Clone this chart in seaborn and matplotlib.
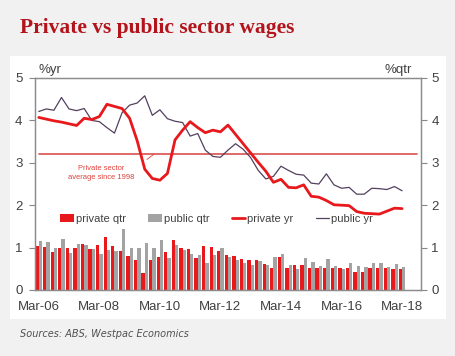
import numpy as np
import pandas as pd
import matplotlib.pyplot as plt
from matplotlib.patches import Patch, Rectangle
from matplotlib.lines import Line2D
import seaborn as sns

# quarterly categories Mar-06 .. Sep-18 (data runs to Mar-18)
quarters = [p.strftime("%b-%y") for p in pd.period_range("2006Q1", "2018Q3", freq="Q")]
quarters = [q.replace("Jan", "Mar").replace("Apr", "Jun").replace("Jul", "Sep").replace("Oct", "Dec") for q in quarters]
tick_labels = ["Mar-06", "Mar-08", "Mar-10", "Mar-12", "Mar-14", "Mar-16", "Mar-18"]

private_qtr = [1.03, 1.02, 0.90, 1.00, 0.99, 0.99, 1.09, 0.97, 1.06, 1.26, 1.04, 0.93, 0.81,
               0.71, 0.41, 0.71, 0.79, 0.89, 1.17, 0.98, 0.96, 0.76, 1.04, 1.02, 0.93, 0.82,
               0.81, 0.72, 0.71, 0.71, 0.62, 0.53, 0.79, 0.52, 0.60, 0.60, 0.51, 0.51, 0.51,
               0.51, 0.51, 0.51, 0.42, 0.42, 0.51, 0.51, 0.51, 0.49, 0.49]
public_qtr = [1.15, 1.13, 1.00, 1.21, 0.87, 1.09, 1.07, 0.96, 0.84, 0.94, 0.93, 1.43, 1.00,
              1.00, 1.10, 0.98, 1.17, 0.76, 1.05, 0.94, 0.84, 0.83, 0.64, 0.82, 0.98, 0.79,
              0.71, 0.63, 0.60, 0.69, 0.60, 0.77, 0.86, 0.59, 0.50, 0.75, 0.67, 0.57, 0.74,
              0.57, 0.49, 0.64, 0.56, 0.55, 0.63, 0.63, 0.55, 0.62, 0.54]
private_yr = [4.07, 4.03, 3.99, 3.96, 3.92, 3.88, 4.05, 4.02, 4.09, 4.38, 4.33, 4.28, 4.05,
              3.52, 2.85, 2.63, 2.59, 2.75, 3.54, 3.77, 3.97, 3.83, 3.71, 3.77, 3.73, 3.89,
              3.67, 3.45, 3.23, 3.01, 2.80, 2.54, 2.61, 2.42, 2.41, 2.48, 2.21, 2.19, 2.11,
              2.01, 2.00, 1.99, 1.85, 1.81, 1.80, 1.79, 1.86, 1.93, 1.92]
public_yr = [4.21, 4.27, 4.24, 4.54, 4.27, 4.23, 4.28, 4.00, 3.97, 3.83, 3.70, 4.18, 4.36,
             4.41, 4.58, 4.12, 4.25, 4.04, 3.98, 3.95, 3.63, 3.69, 3.30, 3.15, 3.13, 3.30,
             3.45, 3.32, 3.12, 2.82, 2.62, 2.68, 2.92, 2.82, 2.73, 2.71, 2.52, 2.50, 2.74,
             2.48, 2.40, 2.42, 2.26, 2.26, 2.40, 2.39, 2.37, 2.44, 2.34]
private_avg = 3.2

RED = "#E8191C"
GREY = "#A3A3A3"
PURPLE = "#54405F"
AVG = "#D9504F"
TXT = "#404040"

sns.set_style("white")
plt.rcParams['font.family'] = ['Liberation Sans', 'DejaVu Sans']

fig = plt.figure(figsize=(4.56, 3.56), dpi=100, facecolor="#F1F1F1")
fig.patches.append(Rectangle((10 / 456, 1 - 319 / 356), 436 / 456, 263 / 356,
                             transform=fig.transFigure, facecolor="white", edgecolor="none", zorder=-10))
ax = fig.add_axes([35 / 456, 1 - 290 / 356, 386 / 456, 212 / 356])

n = len(private_qtr)
bars = pd.DataFrame({
    "quarter": quarters[:n] * 2,
    "series": ["private qtr"] * n + ["public qtr"] * n,
    "value": private_qtr + public_qtr,
})
sns.barplot(data=bars, x="quarter", y="value", hue="series", order=quarters,
            hue_order=["private qtr", "public qtr"], palette=[RED, GREY],
            width=0.88, saturation=1, linewidth=0, legend=False, ax=ax)

x = np.arange(n)
sns.lineplot(x=np.arange(len(quarters)), y=[private_avg] * len(quarters), color=AVG, lw=1.2, ax=ax)
sns.lineplot(x=x, y=public_yr, color=PURPLE, lw=0.9, ax=ax)
sns.lineplot(x=x, y=private_yr, color=RED, lw=2.0, ax=ax)

ax.set_xlim(-0.5, len(quarters) - 0.5)
ax.set_ylim(0, 5)
ax.set_xlabel("")
ax.set_ylabel("")
ax.set_xticks(np.arange(0, n, 8))
ax.set_xticklabels(tick_labels)
ax.set_xticks(np.arange(-0.5, n, 8), minor=True)
ax.tick_params(axis="x", which="major", length=0, labelsize=9.5, labelcolor=TXT, pad=8)
ax.tick_params(axis="x", which="minor", length=3, color="#888888", direction="out")
ax.set_yticks(range(6))
ax.tick_params(axis="y", length=4, color="#888888", direction="out", labelsize=9.5, labelcolor=TXT, left=True, pad=5)

ax2 = ax.twinx()
ax2.set_ylim(0, 5)
ax2.set_yticks(range(6))
ax2.tick_params(axis="y", length=4, color="#888888", direction="out", labelsize=9.5, labelcolor=TXT, right=True)
for a in (ax, ax2):
    for s in a.spines.values():
        s.set_color("#8C8C8C")
        s.set_linewidth(0.9)

ax.text(0.008, 1.01, "%yr", transform=ax.transAxes, fontsize=9.5, color=TXT, ha="left", va="bottom")
ax.text(0.977, 1.01, "%qtr", transform=ax.transAxes, fontsize=9.5, color=TXT, ha="right", va="bottom")

ax.annotate("Private sector\naverage since 1998", xy=(15.2, private_avg), xytext=(8.3, 2.77),
            ha="center", va="center", fontsize=5.4, color="#E0403A", linespacing=1.4,
            arrowprops=dict(arrowstyle="-", color="#E0403A", lw=0.6, shrinkA=8, shrinkB=0,
                            relpos=(1.0, 0.75)))

handles = [Patch(facecolor=RED, edgecolor="none"), Patch(facecolor=GREY, edgecolor="none"),
           Line2D([], [], color=RED, lw=2.0), Line2D([], [], color=PURPLE, lw=0.9)]
ax.legend(handles, ["private qtr", "public qtr", "private yr", "public yr"], ncol=4,
          frameon=False, fontsize=8, handlelength=1.2, handleheight=0.7, handletextpad=0.2,
          columnspacing=2.0, loc="center left", bbox_to_anchor=(0.04, 0.335),
          labelcolor=TXT)

fig.text(20 / 456, 1 - 33 / 356, "Private vs public sector wages", fontsize=15.5,
         fontweight="bold", family="Liberation Serif", color="#B3141C", va="baseline")
fig.text(20 / 456, 1 - 337 / 356, "Sources: ABS, Westpac Economics", fontsize=7,
         style="italic", family="DejaVu Sans", color="#505050", va="baseline")

fig.savefig("out.png", dpi=100, facecolor=fig.get_facecolor())
